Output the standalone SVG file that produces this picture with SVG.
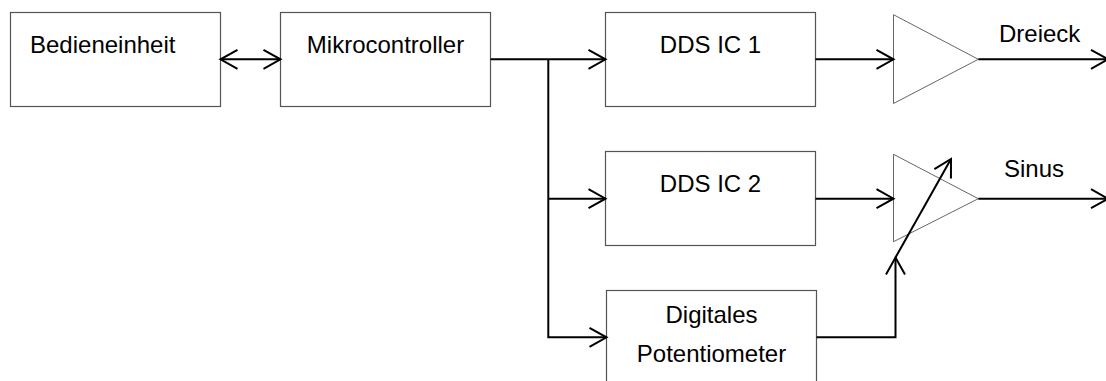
<svg xmlns="http://www.w3.org/2000/svg" width="1106" height="381" viewBox="0 0 1106 381">
  <style>
    .box { fill: #ffffff; stroke: #555555; stroke-width: 1.2; }
    .amp { fill: none; stroke: #555555; stroke-width: 0.9; }
    .wire { fill: none; stroke: #000000; stroke-width: 2; }
    .label { font-family: "Liberation Sans", Arial, sans-serif; font-size: 24px; fill: #000000; }
  </style>
  <defs>
    <marker id="arrow" markerUnits="userSpaceOnUse" markerWidth="22" markerHeight="24" viewBox="-2 -2 22 24" refX="17" refY="9.5" orient="auto-start-reverse">
      <path d="M0,0 L17,9.5 L0,19" fill="none" stroke="#000000" stroke-width="2"/>
    </marker>
  </defs>

  <rect width="1106" height="381" fill="#ffffff"/>

  <!-- function blocks -->
  <g id="bedieneinheit">
    <rect class="box" x="10.5" y="12.5" width="210" height="94"/>
    <text class="label" x="30" y="52.5">Bedieneinheit</text>
  </g>
  <g id="mikrocontroller">
    <rect class="box" x="280.5" y="12.5" width="210" height="94"/>
    <text class="label" x="385.5" y="52.5" text-anchor="middle">Mikrocontroller</text>
  </g>
  <g id="dds1">
    <rect class="box" x="605.5" y="12.5" width="210" height="94"/>
    <text class="label" x="710.5" y="52.5" text-anchor="middle">DDS IC 1</text>
  </g>
  <g id="dds2">
    <rect class="box" x="605.5" y="151.5" width="210" height="94"/>
    <text class="label" x="710.5" y="192" text-anchor="middle">DDS IC 2</text>
  </g>
  <g id="digipot">
    <rect class="box" x="606.5" y="290.5" width="210" height="94"/>
    <text class="label" x="711.5" y="322.5" text-anchor="middle">Digitales</text>
    <text class="label" x="711.5" y="361.5" text-anchor="middle">Potentiometer</text>
  </g>

  <!-- amplifiers -->
  <g id="amp1">
    <path class="amp" d="M893.5,14.7 L978.3,59.3 L893.5,103.5 Z"/>
  </g>
  <g id="amp2">
    <path class="amp" d="M893.5,154.3 L978.3,198.7 L893.5,241.7 Z"/>
  </g>

  <!-- output labels -->
  <g id="out-labels">
    <text class="label" x="999" y="42.3">Dreieck</text>
    <text class="label" x="1004" y="176.7">Sinus</text>
  </g>

  <!-- connectors -->
  <g id="connectors">
    <line class="wire" x1="220.5" y1="59.3" x2="280.5" y2="59.3" marker-start="url(#arrow)" marker-end="url(#arrow)"/>
    <line class="wire" x1="490.5" y1="59.3" x2="605.5" y2="59.3" marker-end="url(#arrow)"/>
    <polyline class="wire" points="548.3,59.3 548.3,337.3 606.5,337.3" marker-end="url(#arrow)"/>
    <line class="wire" x1="548.3" y1="198.7" x2="605.5" y2="198.7" marker-end="url(#arrow)"/>
    <line class="wire" x1="815.5" y1="59.3" x2="893.5" y2="59.3" marker-end="url(#arrow)"/>
    <line class="wire" x1="815.5" y1="198.7" x2="893.5" y2="198.7" marker-end="url(#arrow)"/>
    <line class="wire" x1="978.3" y1="59.3" x2="1108" y2="59.3" marker-end="url(#arrow)"/>
    <line class="wire" x1="978.3" y1="198.7" x2="1108" y2="198.7" marker-end="url(#arrow)"/>
    <polyline class="wire" points="816.5,337.3 895.5,337.3 895.5,257.5" marker-end="url(#arrow)"/>
    <line class="wire" x1="895.5" y1="257.5" x2="951" y2="159" marker-end="url(#arrow)"/>
  </g>
</svg>
